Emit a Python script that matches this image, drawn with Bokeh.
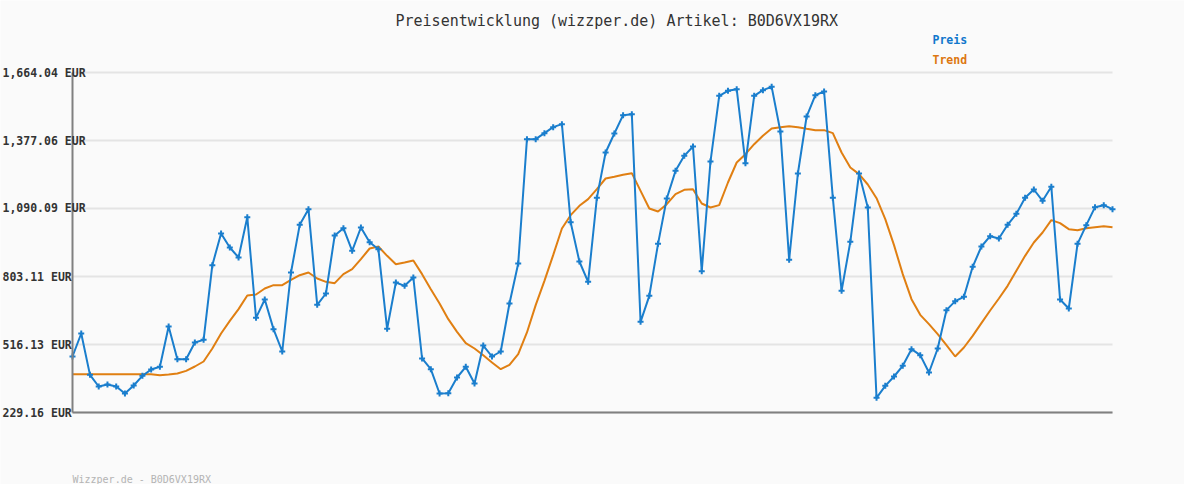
from bokeh.plotting import figure
from bokeh.models import Range1d, Label, FixedTicker
from bokeh.embed import file_html
from bokeh.resources import INLINE

title_text = "Preisentwicklung (wizzper.de) Artikel: B0D6VX19RX"
footer_text = "Wizzper.de - B0D6VX19RX"
series_names = ["Preis", "Trend"]
tick_values = [229.16, 516.13, 803.11, 1090.09, 1377.06, 1664.04]
tick_labels = ["229.16 EUR", "516.13 EUR", "803.11 EUR", "1,090.09 EUR", "1,377.06 EUR", "1,664.04 EUR"]

preis = [465.5, 562.6, 388.1, 338.9, 347.3, 338.9, 309.3, 343.1, 383.9, 410.6,
         421.9, 592.1, 454.2, 454.2, 524.6, 535.8, 851.0, 984.6, 925.5, 883.3,
         1053.5, 628.7, 706.0, 580.9, 486.6, 820.0, 1021.2, 1087.3, 683.5, 731.4,
         976.1, 1007.1, 911.4, 1009.9, 948.0, 918.5, 582.3, 777.8, 763.7, 798.9,
         457.1, 412.0, 309.3, 310.8, 376.9, 421.9, 351.6, 511.9, 465.5, 486.6,
         689.2, 858.0, 1382.7, 1382.7, 1408.0, 1433.4, 1446.0, 1032.4, 866.4, 780.6,
         1135.1, 1326.4, 1406.6, 1484.0, 1488.2, 611.8, 721.5, 941.0, 1132.3, 1249.0,
         1312.4, 1351.8, 825.6, 1288.4, 1565.6, 1586.7, 1593.7, 1281.4, 1565.6, 1589.5,
         1603.6, 1415.0, 873.4, 1237.8, 1478.3, 1568.4, 1583.9, 1135.1, 742.6, 949.4,
         1237.8, 1094.3, 291.1, 341.7, 381.1, 426.1, 496.4, 471.1, 398.0, 499.3,
         661.0, 699.0, 717.3, 843.9, 929.7, 973.3, 963.5, 1021.2, 1067.6, 1135.1,
         1170.3, 1122.4, 1181.5, 706.0, 668.1, 941.0, 1019.8, 1095.7, 1104.2, 1087.3]

trend = [391.0, 391.0, 391.0, 391.0, 391.0, 391.0, 391.0, 391.0, 391.0, 391.0,
         386.7, 389.5, 393.8, 405.0, 423.3, 444.4, 499.3, 562.6, 616.0, 665.3,
         723.0, 727.2, 752.5, 766.5, 766.5, 789.0, 808.7, 820.0, 794.7, 780.6,
         775.0, 813.0, 834.0, 876.3, 921.3, 929.7, 890.3, 855.2, 862.2, 870.6,
         813.0, 749.7, 689.2, 623.0, 569.6, 521.8, 499.3, 471.1, 440.2, 412.0,
         430.3, 475.3, 566.8, 682.1, 784.8, 893.2, 1005.7, 1061.9, 1101.4, 1129.5,
         1171.7, 1216.7, 1223.7, 1232.2, 1239.2, 1164.6, 1090.1, 1077.4, 1108.4, 1150.6,
         1168.9, 1171.7, 1111.2, 1094.3, 1104.2, 1199.8, 1284.2, 1319.4, 1361.6, 1396.8,
         1427.7, 1433.4, 1437.6, 1433.4, 1426.3, 1420.7, 1420.7, 1408.0, 1326.4, 1263.1,
         1235.0, 1191.4, 1133.7, 1045.1, 935.4, 813.0, 707.5, 641.3, 602.0, 559.7,
         513.3, 465.5, 503.5, 552.7, 606.2, 659.6, 710.3, 763.7, 827.0, 890.3,
         946.6, 988.8, 1040.9, 1028.2, 1002.9, 998.7, 1007.1, 1011.3, 1015.5, 1011.3]

xs = list(range(len(preis)))

BLUE = "#1a7ecd"
ORANGE = "#e07f12"
FONT = "DejaVu Sans Mono"

# geometry: the frame covers the whole figure; the data region sits inside it
W, H = 1184, 484
L, R, T, B = 72, 72, 72, 72
data_w = W - L - R
data_h = H - T - B
y0, y1 = tick_values[0], tick_values[-1]
x0, x1 = 0, len(preis) - 1
sx = (x1 - x0) / data_w   # data units per pixel
sy = (y1 - y0) / data_h

def dx(px):  # figure pixel x -> data x
    return x0 + (px - L) * sx

def dy(py):  # figure pixel y (top-down) -> data y
    return y0 + (T + data_h - py) * sy

p = figure(width=W, height=H, output_backend="svg", toolbar_location=None, title=None,
           x_range=Range1d(dx(0), dx(W)), y_range=Range1d(dy(H), dy(0)),
           min_border_left=0, min_border_right=0, min_border_top=0, min_border_bottom=0,
           background_fill_color="#fafafa", border_fill_color="#fafafa",
           outline_line_color=None)

p.xgrid.visible = False
p.ygrid.visible = False

# horizontal grid lines at the tick values, spanning the data region
p.segment(x0=[x0] * len(tick_values), y0=tick_values, x1=[x1] * len(tick_values), y1=tick_values,
          line_color="#e4e4e4", line_width=2)

xa = p.xaxis[0]
xa.fixed_location = y0
xa.bounds = (x0, x1)

ya = p.yaxis[0]
ya.fixed_location = x0
ya.bounds = (y0, y1)

for ax in (xa, ya):
    ax.ticker = FixedTicker(ticks=[])
    ax.axis_line_color = "#808080"
    ax.axis_line_width = 2
    ax.major_tick_line_color = None
    ax.minor_tick_line_color = None
    ax.major_tick_out = 0
    ax.major_tick_in = 0

p.line(xs, trend, line_color=ORANGE, line_width=2)
p.line(xs, preis, line_color=BLUE, line_width=2)
p.scatter(xs, preis, marker="cross", size=6, line_color=BLUE, line_width=2)

# y tick labels, left-aligned at the page edge as in the reference
for v, t in zip(tick_values, tick_labels):
    p.add_layout(Label(x=dx(2), y=v, text=t, text_align="left", text_baseline="middle",
                       text_font=FONT, text_font_size="11.5px", text_font_style="bold",
                       text_color="#333333"))

p.add_layout(Label(x=dx(395), y=dy(20), text=title_text, text_align="left",
                   text_baseline="middle", text_font=FONT, text_font_size="15px",
                   text_color="#333333"))
p.add_layout(Label(x=dx(932), y=dy(39), text=series_names[0], text_align="left",
                   text_baseline="middle", text_font=FONT, text_font_size="11.5px",
                   text_font_style="bold", text_color="#1177cc"))
p.add_layout(Label(x=dx(932), y=dy(59), text=series_names[1], text_align="left",
                   text_baseline="middle", text_font=FONT, text_font_size="11.5px",
                   text_font_style="bold", text_color="#dd7711"))
p.add_layout(Label(x=dx(72), y=dy(479), text=footer_text, text_align="left",
                   text_baseline="middle", text_font=FONT, text_font_size="10px",
                   text_color="#b4b4b4"))

open("out.html", "w").write(file_html(p, INLINE))
